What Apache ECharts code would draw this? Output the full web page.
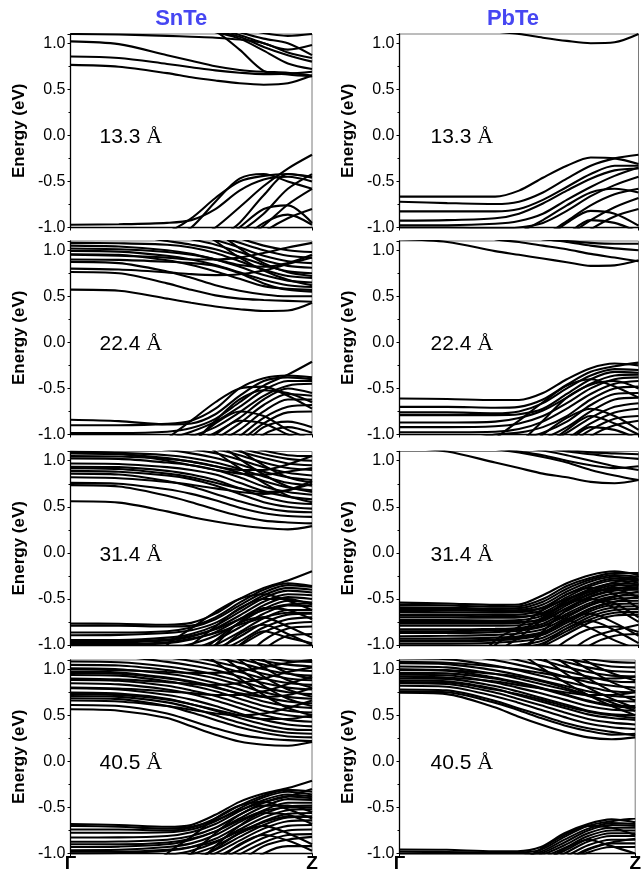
<!DOCTYPE html>
<html>
<head>
<meta charset="utf-8">
<script src="https://cdn.jsdelivr.net/npm/echarts@6/dist/echarts.min.js"></script>
<style>
  html, body { margin: 0; padding: 0; background: #fff; }
  #chart { width: 644px; height: 878px; }
</style>
</head>
<body>
<div id="chart"></div>
<script>
// k-path sampling from Γ (0) to Z (1)
const kPath = [0, 0.2, 0.4, 0.5, 0.6, 0.7, 0.8, 0.9, 1.0];

const materials = ['SnTe', 'PbTe'];
const thickness = ['13.3', '22.4', '31.4', '40.5'];
const kLabels = ['Γ', 'Z'];

// Band energies (eV) at each kPath point, one row per band
const snte133 = [
  [0.765, 0.745, 0.675, 0.63, 0.595, 0.565, 0.55, 0.565, 0.65],
  [0.855, 0.84, 0.775, 0.74, 0.705, 0.68, 0.665, 0.67, 0.69],
  [1.02, 0.99, 0.87, 0.81, 0.75, 0.71, 0.69, 0.68, 0.65],
  [1.10, 1.095, 1.08, 1.07, 1.06, 1.04, 1.00, 0.90, 0.84],
  [2.0, 1.7, 1.35, 1.22, 1.13, 0.93, 0.70, 0.66, 0.64],
  [1.7, 1.5, 1.3, 1.2, 1.13, 1.07, 0.96, 0.87, 0.80],
  [1.8, 1.6, 1.35, 1.25, 1.16, 1.09, 1.00, 0.93, 0.98],
  [1.9, 1.7, 1.45, 1.32, 1.2, 1.12, 1.05, 1.0, 0.87],
  [2.0, 1.8, 1.6, 1.45, 1.3, 1.18, 1.11, 1.08, 1.10],
  [1.5, 1.4, 1.25, 1.18, 1.12, 1.05, 0.92, 0.78, 0.72],
  [-0.97, -0.965, -0.95, -0.92, -0.80, -0.60, -0.48, -0.45, -0.50],
  [-1.3, -1.2, -1.05, -0.90, -0.68, -0.50, -0.44, -0.42, -0.46],
  [-2.0, -1.7, -1.3, -1.15, -1.0, -0.78, -0.55, -0.36, -0.21],
  [-1.8, -1.5, -1.15, -1.0, -0.72, -0.47, -0.42, -0.50, -0.58],
  [-2.0, -1.8, -1.5, -1.35, -1.2, -1.05, -0.85, -0.58, -0.42],
  [-2.0, -1.8, -1.5, -1.35, -1.15, -0.95, -0.65, -0.42, -0.45],
  [-2.0, -1.8, -1.6, -1.45, -1.3, -1.15, -0.98, -0.75, -0.58],
  [-2.0, -1.8, -1.6, -1.4, -1.2, -1.0, -0.80, -0.76, -0.95],
  [-2.0, -1.8, -1.6, -1.5, -1.35, -1.15, -0.95, -0.86, -0.97],
  [-2.0, -2.0, -1.8, -1.65, -1.45, -1.25, -1.05, -0.90, -0.80]
];

const pbte133 = [
  [1.35, 1.25, 1.13, 1.10, 1.06, 1.025, 1.0, 1.01, 1.10],
  [-0.665, -0.665, -0.665, -0.60, -0.46, -0.33, -0.24, -0.25, -0.31],
  [-0.72, -0.735, -0.745, -0.72, -0.62, -0.47, -0.33, -0.25, -0.21],
  [-0.825, -0.825, -0.825, -0.80, -0.70, -0.56, -0.42, -0.33, -0.33],
  [-0.925, -0.92, -0.90, -0.85, -0.74, -0.60, -0.47, -0.38, -0.36],
  [-0.975, -0.975, -0.96, -0.93, -0.85, -0.70, -0.56, -0.44, -0.35],
  [-1.0, -1.0, -1.01, -1.0, -0.95, -0.82, -0.66, -0.54, -0.45],
  [-1.6, -1.4, -1.15, -1.05, -0.92, -0.76, -0.62, -0.58, -0.62],
  [-2.0, -1.8, -1.4, -1.25, -1.10, -0.93, -0.76, -0.64, -0.58],
  [-2.0, -1.9, -1.6, -1.45, -1.28, -1.10, -0.92, -0.78, -0.68],
  [-2.0, -1.8, -1.5, -1.35, -1.15, -0.95, -0.82, -0.85, -0.98],
  [-2.0, -2.0, -1.8, -1.6, -1.4, -1.2, -1.02, -0.88, -0.80],
  [-2.0, -2.0, -1.7, -1.5, -1.3, -1.08, -0.92, -0.95, -1.05]
];

const snte224 = [
  [0.572, 0.56, 0.475, 0.43, 0.39, 0.36, 0.34, 0.345, 0.43],
  [0.764, 0.75, 0.64, 0.57, 0.51, 0.475, 0.46, 0.45, 0.44],
  [0.873, 0.86, 0.77, 0.70, 0.62, 0.56, 0.52, 0.50, 0.50],
  [0.899, 0.895, 0.875, 0.86, 0.83, 0.75, 0.64, 0.57, 0.55],
  [0.957, 0.95, 0.89, 0.84, 0.77, 0.69, 0.61, 0.58, 0.57],
  [0.993, 0.985, 0.94, 0.90, 0.84, 0.76, 0.68, 0.62, 0.60],
  [1.018, 1.01, 0.98, 0.95, 0.90, 0.82, 0.73, 0.67, 0.65],
  [1.08, 1.075, 1.06, 1.03, 0.97, 0.88, 0.79, 0.72, 0.70],
  [1.2, 1.18, 1.10, 1.06, 1.01, 0.93, 0.84, 0.77, 0.75],
  [1.35, 1.3, 1.18, 1.12, 1.06, 0.98, 0.89, 0.83, 0.81],
  [1.5, 1.42, 1.26, 1.18, 1.11, 1.03, 0.94, 0.88, 0.86],
  [1.7, 1.55, 1.33, 1.24, 1.16, 1.08, 1.0, 0.94, 0.92],
  [1.9, 1.7, 1.4, 1.3, 1.21, 1.13, 1.05, 1.0, 0.98],
  [0.80, 0.79, 0.76, 0.74, 0.73, 0.74, 0.78, 0.85, 0.92],
  [0.95, 0.94, 0.92, 0.90, 0.90, 0.92, 0.97, 1.03, 1.08],
  [2.4, 2.1, 1.5, 1.3, 1.1, 0.92, 0.78, 0.68, 0.62],
  [2.6, 2.3, 1.7, 1.45, 1.22, 1.02, 0.86, 0.76, 0.72],
  [1.05, 1.04, 1.0, 0.96, 0.9, 0.84, 0.82, 0.86, 0.95],
  [-0.84, -0.855, -0.89, -0.88, -0.78, -0.58, -0.42, -0.38, -0.40],
  [-0.90, -0.90, -0.885, -0.85, -0.72, -0.50, -0.39, -0.36, -0.38],
  [-0.985, -0.985, -0.97, -0.93, -0.83, -0.65, -0.47, -0.35, -0.21],
  [-1.3, -1.2, -1.05, -0.97, -0.86, -0.70, -0.52, -0.42, -0.42],
  [-1.5, -1.3, -1.1, -1.02, -0.92, -0.76, -0.58, -0.47, -0.45],
  [-1.6, -1.4, -1.2, -1.1, -0.98, -0.82, -0.62, -0.50, -0.55],
  [-1.8, -1.6, -1.3, -1.18, -1.05, -0.88, -0.68, -0.56, -0.58],
  [-2.0, -1.7, -1.4, -1.25, -1.1, -0.95, -0.75, -0.62, -0.62],
  [-2.0, -1.8, -1.5, -1.35, -1.2, -1.02, -0.82, -0.70, -0.68],
  [-2.0, -1.9, -1.6, -1.45, -1.28, -1.08, -0.88, -0.76, -0.75],
  [-2.0, -2.0, -1.7, -1.55, -1.38, -1.15, -0.92, -0.86, -0.92],
  [-2.0, -2.0, -1.8, -1.62, -1.45, -1.25, -1.0, -0.92, -0.98],
  [-2.0, -1.7, -1.3, -1.1, -0.88, -0.75, -0.80, -0.95, -1.05],
  [-2.0, -1.8, -1.4, -1.2, -1.0, -0.85, -0.88, -1.0, -1.1],
  [-2.0, -1.6, -1.05, -0.85, -0.65, -0.5, -0.48, -0.58, -0.72],
  [-2.0, -1.9, -1.3, -1.1, -0.85, -0.62, -0.52, -0.55, -0.65]
];

const pbte224 = [
  [1.12, 1.09, 0.99, 0.95, 0.91, 0.87, 0.83, 0.835, 0.89],
  [1.5, 1.3, 1.12, 1.09, 1.05, 1.01, 0.96, 0.92, 0.88],
  [1.6, 1.4, 1.2, 1.15, 1.12, 1.09, 1.05, 1.02, 1.0],
  [1.5, 1.35, 1.2, 1.15, 1.12, 1.10, 1.08, 1.07, 1.07],
  [-0.61, -0.615, -0.625, -0.625, -0.55, -0.40, -0.28, -0.23, -0.25],
  [-0.70, -0.70, -0.71, -0.70, -0.62, -0.46, -0.32, -0.26, -0.22],
  [-0.76, -0.76, -0.77, -0.75, -0.66, -0.50, -0.36, -0.29, -0.30],
  [-0.79, -0.79, -0.79, -0.78, -0.72, -0.56, -0.40, -0.32, -0.33],
  [-0.87, -0.87, -0.86, -0.82, -0.74, -0.60, -0.45, -0.36, -0.35],
  [-0.92, -0.92, -0.91, -0.88, -0.80, -0.66, -0.50, -0.40, -0.38],
  [-0.975, -0.975, -0.97, -0.94, -0.86, -0.72, -0.56, -0.45, -0.42],
  [-1.2, -1.1, -1.0, -0.98, -0.92, -0.80, -0.62, -0.50, -0.48],
  [-1.5, -1.3, -1.1, -1.05, -0.98, -0.86, -0.68, -0.56, -0.55],
  [-1.8, -1.5, -1.25, -1.15, -1.05, -0.92, -0.75, -0.62, -0.60],
  [-2.0, -1.7, -1.4, -1.25, -1.12, -0.98, -0.82, -0.70, -0.66],
  [-2.0, -1.9, -1.55, -1.4, -1.22, -1.05, -0.88, -0.76, -0.72],
  [-2.0, -2.0, -1.7, -1.5, -1.3, -1.12, -0.95, -0.83, -0.80],
  [-2.0, -1.8, -1.4, -1.2, -1.0, -0.82, -0.72, -0.80, -0.95],
  [-2.0, -2.0, -1.6, -1.4, -1.15, -0.95, -0.80, -0.88, -1.0],
  [-2.0, -2.0, -1.8, -1.6, -1.35, -1.1, -0.92, -0.95, -1.05],
  [-2.0, -2.0, -2.0, -1.8, -1.5, -1.25, -1.02, -0.90, -0.85],
  [-2.0, -1.6, -1.05, -0.85, -0.65, -0.47, -0.4, -0.48, -0.6],
  [-2.0, -1.9, -1.3, -1.1, -0.85, -0.6, -0.46, -0.42, -0.5]
];

const snte314 = [
  [0.56, 0.545, 0.45, 0.39, 0.34, 0.30, 0.27, 0.255, 0.29],
  [0.735, 0.72, 0.62, 0.55, 0.47, 0.40, 0.35, 0.33, 0.32],
  [0.76, 0.75, 0.69, 0.64, 0.57, 0.49, 0.43, 0.40, 0.39],
  [0.86, 0.85, 0.78, 0.72, 0.64, 0.56, 0.49, 0.45, 0.44],
  [0.89, 0.88, 0.84, 0.80, 0.73, 0.64, 0.55, 0.50, 0.48],
  [0.935, 0.93, 0.89, 0.85, 0.79, 0.70, 0.61, 0.55, 0.53],
  [0.97, 0.965, 0.93, 0.90, 0.85, 0.76, 0.67, 0.61, 0.58],
  [1.025, 1.02, 0.98, 0.95, 0.90, 0.82, 0.72, 0.66, 0.63],
  [1.05, 1.045, 1.02, 0.99, 0.94, 0.87, 0.78, 0.71, 0.68],
  [1.09, 1.085, 1.06, 1.03, 0.98, 0.91, 0.83, 0.76, 0.73],
  [1.2, 1.18, 1.12, 1.08, 1.03, 0.96, 0.88, 0.82, 0.79],
  [1.3, 1.27, 1.18, 1.13, 1.08, 1.01, 0.93, 0.87, 0.84],
  [1.45, 1.4, 1.26, 1.19, 1.13, 1.06, 0.98, 0.92, 0.90],
  [1.6, 1.5, 1.33, 1.25, 1.18, 1.10, 1.03, 0.97, 0.95],
  [1.7, 1.6, 1.4, 1.3, 1.22, 1.14, 1.07, 1.02, 1.0],
  [1.8, 1.7, 1.48, 1.36, 1.27, 1.18, 1.11, 1.06, 1.05],
  [1.1, 1.08, 1.0, 0.95, 0.90, 0.86, 0.85, 0.88, 0.92],
  [0.92, 0.91, 0.86, 0.82, 0.76, 0.70, 0.66, 0.68, 0.75],
  [2.4, 2.1, 1.5, 1.3, 1.1, 0.92, 0.76, 0.62, 0.55],
  [2.6, 2.3, 1.7, 1.45, 1.22, 1.02, 0.85, 0.72, 0.66],
  [2.8, 2.5, 1.9, 1.6, 1.34, 1.12, 0.95, 0.82, 0.76],
  [1.08, 1.07, 1.03, 0.99, 0.94, 0.9, 0.9, 0.96, 1.05],
  [0.82, 0.81, 0.77, 0.74, 0.7, 0.66, 0.64, 0.68, 0.78],
  [-0.767, -0.77, -0.78, -0.76, -0.66, -0.50, -0.38, -0.30, -0.20],
  [-0.79, -0.79, -0.80, -0.79, -0.70, -0.54, -0.40, -0.33, -0.36],
  [-0.865, -0.865, -0.85, -0.81, -0.72, -0.57, -0.43, -0.35, -0.37],
  [-0.894, -0.89, -0.87, -0.84, -0.76, -0.61, -0.46, -0.38, -0.40],
  [-0.945, -0.945, -0.92, -0.88, -0.79, -0.64, -0.49, -0.41, -0.43],
  [-0.975, -0.97, -0.95, -0.91, -0.82, -0.68, -0.53, -0.45, -0.46],
  [-1.0, -1.0, -0.98, -0.94, -0.86, -0.72, -0.57, -0.48, -0.50],
  [-1.2, -1.15, -1.05, -0.99, -0.90, -0.76, -0.61, -0.52, -0.54],
  [-1.4, -1.3, -1.12, -1.05, -0.95, -0.81, -0.66, -0.57, -0.58],
  [-1.6, -1.45, -1.2, -1.1, -1.0, -0.86, -0.71, -0.62, -0.62],
  [-1.8, -1.6, -1.3, -1.17, -1.05, -0.91, -0.76, -0.67, -0.66],
  [-2.0, -1.75, -1.4, -1.25, -1.1, -0.96, -0.81, -0.72, -0.70],
  [-2.0, -1.9, -1.5, -1.33, -1.16, -1.01, -0.86, -0.77, -0.75],
  [-2.0, -1.8, -1.35, -1.15, -0.95, -0.76, -0.70, -0.80, -0.92],
  [-2.0, -2.0, -1.55, -1.35, -1.1, -0.88, -0.78, -0.88, -1.0],
  [-2.0, -2.0, -1.7, -1.5, -1.25, -1.0, -0.85, -0.92, -0.98],
  [-2.0, -2.0, -2.0, -1.8, -1.5, -1.2, -0.95, -0.82, -0.80],
  [-2.0, -2.0, -2.0, -1.9, -1.6, -1.3, -1.05, -0.90, -0.88],
  [-2.0, -1.5, -1.0, -0.82, -0.64, -0.5, -0.45, -0.52, -0.62],
  [-2.0, -1.8, -1.2, -1.0, -0.8, -0.6, -0.5, -0.5, -0.56],
  [-2.0, -2.0, -1.5, -1.25, -1.0, -0.75, -0.6, -0.62, -0.72],
  [-0.96, -0.96, -0.94, -0.9, -0.83, -0.72, -0.62, -0.56, -0.55],
  [-0.99, -0.99, -0.97, -0.93, -0.87, -0.78, -0.7, -0.65, -0.65]
];

const pbte314 = [
  [1.15, 1.10, 0.98, 0.92, 0.86, 0.82, 0.77, 0.755, 0.79],
  [1.5, 1.3, 1.13, 1.09, 1.04, 0.98, 0.90, 0.84, 0.79],
  [1.6, 1.4, 1.2, 1.15, 1.11, 1.06, 1.0, 0.94, 0.90],
  [1.6, 1.45, 1.25, 1.18, 1.14, 1.10, 1.07, 1.04, 1.02],
  [1.6, 1.5, 1.3, 1.22, 1.16, 1.12, 1.09, 1.08, 1.07],
  [1.4, 1.3, 1.15, 1.1, 1.06, 1.0, 0.95, 0.92, 0.94],
  [-0.54, -0.55, -0.565, -0.56, -0.46, -0.33, -0.24, -0.20, -0.24],
  [-0.565, -0.57, -0.585, -0.58, -0.50, -0.36, -0.27, -0.22, -0.22],
  [-0.59, -0.595, -0.605, -0.60, -0.53, -0.39, -0.29, -0.24, -0.26],
  [-0.61, -0.615, -0.625, -0.62, -0.56, -0.42, -0.31, -0.26, -0.28],
  [-0.64, -0.645, -0.65, -0.645, -0.59, -0.45, -0.34, -0.28, -0.30],
  [-0.67, -0.67, -0.675, -0.67, -0.62, -0.48, -0.36, -0.30, -0.32],
  [-0.70, -0.70, -0.705, -0.70, -0.65, -0.51, -0.39, -0.33, -0.34],
  [-0.73, -0.73, -0.735, -0.73, -0.68, -0.54, -0.42, -0.35, -0.36],
  [-0.765, -0.765, -0.765, -0.76, -0.71, -0.57, -0.45, -0.38, -0.38],
  [-0.79, -0.79, -0.79, -0.785, -0.74, -0.60, -0.48, -0.41, -0.40],
  [-0.83, -0.83, -0.825, -0.815, -0.77, -0.63, -0.51, -0.44, -0.43],
  [-0.87, -0.87, -0.86, -0.845, -0.80, -0.66, -0.54, -0.47, -0.46],
  [-0.905, -0.90, -0.89, -0.875, -0.83, -0.70, -0.57, -0.50, -0.49],
  [-0.93, -0.93, -0.92, -0.905, -0.86, -0.73, -0.60, -0.53, -0.52],
  [-0.96, -0.96, -0.95, -0.935, -0.89, -0.76, -0.63, -0.56, -0.55],
  [-0.985, -0.985, -0.975, -0.96, -0.92, -0.79, -0.66, -0.59, -0.58],
  [-1.1, -1.08, -1.03, -1.0, -0.95, -0.82, -0.69, -0.62, -0.61],
  [-1.3, -1.2, -1.08, -1.04, -0.98, -0.85, -0.72, -0.65, -0.64],
  [-1.5, -1.35, -1.14, -1.08, -1.01, -0.88, -0.75, -0.68, -0.67],
  [-2.0, -1.7, -1.2, -1.05, -0.88, -0.72, -0.66, -0.76, -0.90],
  [-2.0, -1.9, -1.4, -1.2, -1.0, -0.82, -0.74, -0.84, -0.98],
  [-2.0, -2.0, -1.6, -1.4, -1.15, -0.95, -0.82, -0.80, -0.86],
  [-2.0, -2.0, -1.8, -1.6, -1.35, -1.1, -0.92, -0.84, -0.78],
  [-2.0, -2.0, -2.0, -1.8, -1.5, -1.2, -1.0, -0.90, -0.88],
  [-2.0, -1.5, -0.95, -0.8, -0.62, -0.45, -0.38, -0.45, -0.6],
  [-2.0, -1.8, -1.1, -0.92, -0.72, -0.52, -0.42, -0.40, -0.48],
  [-2.0, -2.0, -1.3, -1.1, -0.85, -0.62, -0.5, -0.55, -0.7],
  [-0.6, -0.61, -0.62, -0.63, -0.66, -0.72, -0.82, -0.95, -1.05],
  [-0.62, -0.625, -0.63, -0.63, -0.6, -0.5, -0.4, -0.32, -0.25],
  [-0.68, -0.68, -0.69, -0.69, -0.66, -0.55, -0.44, -0.36, -0.29],
  [-0.75, -0.75, -0.75, -0.75, -0.72, -0.6, -0.47, -0.4, -0.34],
  [-0.85, -0.85, -0.84, -0.83, -0.79, -0.68, -0.56, -0.48, -0.42],
  [-0.95, -0.95, -0.94, -0.92, -0.87, -0.74, -0.61, -0.53, -0.47],
  [-2.0, -1.6, -1.0, -0.86, -0.7, -0.55, -0.5, -0.6, -0.75]
];

const snte405 = [
  [0.565, 0.55, 0.47, 0.38, 0.29, 0.215, 0.18, 0.17, 0.21],
  [0.612, 0.60, 0.52, 0.44, 0.36, 0.29, 0.25, 0.23, 0.22],
  [0.685, 0.675, 0.60, 0.53, 0.45, 0.37, 0.31, 0.27, 0.26],
  [0.71, 0.70, 0.64, 0.58, 0.50, 0.42, 0.35, 0.31, 0.30],
  [0.746, 0.735, 0.68, 0.62, 0.55, 0.47, 0.40, 0.35, 0.34],
  [0.793, 0.78, 0.72, 0.67, 0.60, 0.52, 0.45, 0.40, 0.38],
  [0.848, 0.835, 0.78, 0.73, 0.66, 0.58, 0.50, 0.45, 0.43],
  [0.884, 0.875, 0.82, 0.77, 0.71, 0.63, 0.55, 0.50, 0.48],
  [0.938, 0.93, 0.87, 0.82, 0.76, 0.68, 0.60, 0.55, 0.53],
  [0.975, 0.965, 0.91, 0.87, 0.81, 0.73, 0.65, 0.60, 0.58],
  [1.01, 1.0, 0.95, 0.91, 0.85, 0.78, 0.70, 0.65, 0.63],
  [1.047, 1.04, 0.99, 0.95, 0.90, 0.83, 0.75, 0.70, 0.68],
  [1.083, 1.075, 1.03, 0.99, 0.94, 0.87, 0.80, 0.75, 0.73],
  [1.15, 1.14, 1.08, 1.04, 0.99, 0.92, 0.85, 0.80, 0.78],
  [1.22, 1.2, 1.13, 1.09, 1.04, 0.97, 0.90, 0.85, 0.83],
  [1.3, 1.28, 1.19, 1.14, 1.08, 1.02, 0.95, 0.90, 0.88],
  [1.4, 1.36, 1.25, 1.19, 1.13, 1.07, 1.0, 0.95, 0.93],
  [1.5, 1.45, 1.31, 1.24, 1.18, 1.11, 1.05, 1.0, 0.98],
  [1.6, 1.52, 1.37, 1.29, 1.22, 1.15, 1.09, 1.05, 1.03],
  [1.7, 1.6, 1.42, 1.33, 1.26, 1.19, 1.13, 1.09, 1.08],
  [0.80, 0.79, 0.76, 0.74, 0.72, 0.72, 0.76, 0.84, 0.92],
  [0.90, 0.89, 0.86, 0.84, 0.83, 0.85, 0.90, 0.97, 1.02],
  [0.66, 0.65, 0.60, 0.56, 0.52, 0.50, 0.52, 0.58, 0.66],
  [1.0, 0.99, 0.97, 0.96, 0.96, 0.98, 1.02, 1.07, 1.1],
  [2.4, 2.1, 1.5, 1.28, 1.08, 0.9, 0.72, 0.58, 0.5],
  [2.6, 2.3, 1.7, 1.42, 1.2, 1.0, 0.82, 0.68, 0.6],
  [2.8, 2.5, 1.9, 1.58, 1.32, 1.1, 0.92, 0.78, 0.7],
  [3.0, 2.7, 2.1, 1.72, 1.44, 1.2, 1.02, 0.88, 0.8],
  [3.2, 2.9, 2.3, 1.88, 1.56, 1.3, 1.1, 0.96, 0.9],
  [0.73, 0.72, 0.67, 0.62, 0.56, 0.5, 0.46, 0.46, 0.5],
  [0.96, 0.95, 0.9, 0.86, 0.8, 0.74, 0.7, 0.72, 0.8],
  [-0.68, -0.69, -0.71, -0.69, -0.58, -0.44, -0.35, -0.29, -0.21],
  [-0.74, -0.74, -0.75, -0.72, -0.62, -0.48, -0.37, -0.31, -0.33],
  [-0.775, -0.775, -0.77, -0.74, -0.65, -0.51, -0.39, -0.33, -0.36],
  [-0.826, -0.825, -0.81, -0.77, -0.68, -0.54, -0.42, -0.36, -0.38],
  [-0.873, -0.87, -0.85, -0.81, -0.72, -0.58, -0.45, -0.38, -0.40],
  [-0.93, -0.925, -0.90, -0.85, -0.76, -0.62, -0.49, -0.41, -0.42],
  [-0.964, -0.96, -0.93, -0.89, -0.80, -0.66, -0.53, -0.45, -0.45],
  [-1.0, -0.995, -0.97, -0.93, -0.84, -0.70, -0.57, -0.49, -0.48],
  [-1.15, -1.1, -1.02, -0.97, -0.88, -0.74, -0.61, -0.53, -0.52],
  [-1.3, -1.22, -1.08, -1.01, -0.92, -0.78, -0.65, -0.57, -0.56],
  [-1.5, -1.35, -1.14, -1.06, -0.96, -0.82, -0.69, -0.61, -0.60],
  [-1.7, -1.5, -1.2, -1.1, -1.0, -0.86, -0.73, -0.65, -0.64],
  [-1.9, -1.65, -1.28, -1.16, -1.05, -0.91, -0.78, -0.70, -0.69],
  [-2.0, -1.8, -1.36, -1.22, -1.1, -0.96, -0.83, -0.75, -0.74],
  [-2.0, -1.95, -1.45, -1.29, -1.15, -1.01, -0.88, -0.80, -0.79],
  [-2.0, -1.8, -1.3, -1.12, -0.95, -0.78, -0.70, -0.78, -0.90],
  [-2.0, -2.0, -1.5, -1.3, -1.1, -0.9, -0.80, -0.86, -0.97],
  [-2.0, -2.0, -1.8, -1.6, -1.35, -1.1, -0.92, -0.85, -0.82],
  [-2.0, -2.0, -2.0, -1.8, -1.5, -1.2, -1.0, -0.92, -0.92],
  [-2.0, -1.5, -1.0, -0.82, -0.62, -0.48, -0.44, -0.52, -0.62],
  [-2.0, -1.8, -1.2, -1.0, -0.78, -0.58, -0.48, -0.48, -0.55],
  [-2.0, -2.0, -1.4, -1.18, -0.92, -0.7, -0.56, -0.58, -0.68],
  [-0.70, -0.71, -0.73, -0.71, -0.64, -0.53, -0.44, -0.38, -0.30],
  [-0.90, -0.90, -0.88, -0.84, -0.76, -0.64, -0.54, -0.50, -0.50],
  [-0.98, -0.98, -0.96, -0.93, -0.87, -0.76, -0.66, -0.60, -0.60]
];

const pbte405 = [
  [0.746, 0.73, 0.59, 0.49, 0.40, 0.32, 0.26, 0.24, 0.26],
  [0.78, 0.77, 0.66, 0.58, 0.50, 0.42, 0.36, 0.32, 0.28],
  [0.82, 0.81, 0.71, 0.64, 0.56, 0.48, 0.41, 0.37, 0.35],
  [0.848, 0.84, 0.75, 0.68, 0.61, 0.53, 0.46, 0.42, 0.40],
  [0.877, 0.87, 0.79, 0.72, 0.65, 0.58, 0.51, 0.47, 0.45],
  [0.90, 0.895, 0.82, 0.76, 0.69, 0.62, 0.55, 0.51, 0.50],
  [0.94, 0.935, 0.86, 0.80, 0.74, 0.67, 0.60, 0.56, 0.55],
  [0.993, 0.985, 0.91, 0.86, 0.80, 0.73, 0.66, 0.61, 0.60],
  [1.03, 1.02, 0.95, 0.90, 0.84, 0.78, 0.71, 0.66, 0.65],
  [1.065, 1.055, 0.99, 0.94, 0.88, 0.82, 0.76, 0.71, 0.70],
  [1.12, 1.11, 1.04, 0.99, 0.93, 0.87, 0.81, 0.76, 0.75],
  [1.2, 1.18, 1.1, 1.05, 0.99, 0.92, 0.86, 0.82, 0.80],
  [1.3, 1.26, 1.16, 1.1, 1.04, 0.98, 0.92, 0.87, 0.86],
  [1.4, 1.35, 1.22, 1.16, 1.10, 1.03, 0.97, 0.93, 0.92],
  [1.5, 1.43, 1.28, 1.21, 1.15, 1.08, 1.02, 0.98, 0.97],
  [1.6, 1.5, 1.34, 1.26, 1.19, 1.12, 1.07, 1.03, 1.02],
  [1.7, 1.6, 1.4, 1.31, 1.23, 1.16, 1.11, 1.08, 1.07],
  [2.4, 2.0, 1.4, 1.2, 1.02, 0.86, 0.72, 0.6, 0.5],
  [2.6, 2.2, 1.6, 1.35, 1.14, 0.96, 0.8, 0.68, 0.58],
  [2.8, 2.4, 1.8, 1.5, 1.26, 1.06, 0.9, 0.76, 0.66],
  [3.0, 2.6, 2.0, 1.65, 1.38, 1.16, 1.0, 0.86, 0.76],
  [3.2, 2.8, 2.2, 1.8, 1.5, 1.26, 1.08, 0.96, 0.88],
  [0.76, 0.75, 0.64, 0.56, 0.47, 0.39, 0.33, 0.29, 0.30],
  [0.86, 0.855, 0.78, 0.73, 0.67, 0.60, 0.54, 0.50, 0.47],
  [0.96, 0.955, 0.90, 0.85, 0.79, 0.72, 0.65, 0.60, 0.58],
  [1.0, 0.99, 0.95, 0.92, 0.87, 0.80, 0.72, 0.64, 0.55],
  [0.92, 0.91, 0.87, 0.83, 0.79, 0.75, 0.72, 0.72, 0.75],
  [1.08, 1.07, 1.03, 1.0, 0.96, 0.92, 0.90, 0.90, 0.92],
  [-0.957, -0.96, -0.975, -0.975, -0.93, -0.78, -0.68, -0.63, -0.66],
  [-0.98, -0.985, -0.99, -0.99, -0.96, -0.82, -0.70, -0.65, -0.62],
  [-1.02, -1.02, -1.02, -1.02, -0.98, -0.85, -0.73, -0.67, -0.68],
  [-1.2, -1.15, -1.08, -1.05, -1.0, -0.88, -0.75, -0.69, -0.70],
  [-1.4, -1.3, -1.15, -1.09, -1.02, -0.91, -0.78, -0.72, -0.72],
  [-1.6, -1.45, -1.22, -1.13, -1.05, -0.94, -0.81, -0.75, -0.75],
  [-1.8, -1.6, -1.3, -1.18, -1.08, -0.97, -0.84, -0.78, -0.78],
  [-2.0, -1.75, -1.38, -1.23, -1.12, -1.0, -0.87, -0.81, -0.81],
  [-2.0, -1.9, -1.46, -1.29, -1.16, -1.04, -0.91, -0.85, -0.85],
  [-2.0, -2.0, -1.55, -1.35, -1.2, -1.08, -0.95, -0.89, -0.89],
  [-2.0, -2.0, -1.65, -1.42, -1.25, -1.12, -0.99, -0.93, -0.93],
  [-2.0, -2.0, -1.5, -1.3, -1.12, -0.95, -0.85, -0.92, -1.0],
  [-2.0, -2.0, -1.8, -1.6, -1.35, -1.12, -0.96, -0.88, -0.84],
  [-2.0, -2.0, -1.3, -1.12, -0.95, -0.8, -0.7, -0.72, -0.8]
];

// Panel grid: rows = slab thickness, columns = material
const panelBands = [
  [snte133, pbte133],
  [snte224, pbte224],
  [snte314, pbte314],
  [snte405, pbte405]
];

const FONT = '"Liberation Sans", Arial, Helvetica, sans-serif';
const colLeft = [70.5, 399.5];
const colWidth = [241.5, 239];
const rowTop = [34, 241, 451.5, 660];
const rowHeight = 193.5;
const yMin = -1.0, yMax = 1.1;

const grids = [], xAxes = [], yAxes = [], series = [], graphics = [];

panelBands.forEach((row, r) => {
  row.forEach((bands, c) => {
    const idx = grids.length;
    const isBottom = r === panelBands.length - 1;
    grids.push({
      left: colLeft[c], top: rowTop[r], width: colWidth[c], height: rowHeight,
      show: true, borderColor: '#7a7a7a', borderWidth: 1, backgroundColor: 'transparent'
    });
    xAxes.push({
      type: 'value', gridIndex: idx, min: 0, max: 1, interval: 1,
      axisLine: { show: true, onZero: false, lineStyle: { color: '#000', width: 1.3 } },
      axisTick: { show: true, length: 3, lineStyle: { color: '#000' } },
      splitLine: { show: false },
      axisLabel: {
        show: isBottom, margin: 1,
        formatter: v => (v === 0 ? kLabels[0] : (v === 1 ? kLabels[1] : '')),
        color: '#000', fontSize: 19, fontWeight: 'bold', fontFamily: FONT
      }
    });
    yAxes.push({
      type: 'value', gridIndex: idx, min: yMin, max: yMax, interval: 0.5,
      name: 'Energy (eV)', nameLocation: 'middle', nameGap: 43,
      nameTextStyle: { color: '#000', fontSize: 17, fontWeight: 'bold', fontFamily: FONT },
      axisLine: { show: true, onZero: false, lineStyle: { color: '#000', width: 1.3 } },
      axisTick: { show: true, length: 3, lineStyle: { color: '#000' } },
      minorTick: { show: true, splitNumber: 2, length: 2, lineStyle: { color: '#000' } },
      splitLine: { show: false },
      axisLabel: {
        margin: 5, showMaxLabel: false,
        formatter: v => (v > 1.05 ? '' : v.toFixed(1)),
        color: '#000', fontSize: 16, fontFamily: FONT
      }
    });
    bands.forEach(band => {
      series.push({
        type: 'line', xAxisIndex: idx, yAxisIndex: idx,
        data: kPath.map((k, j) => [k, band[j]]),
        smooth: 0.3, showSymbol: false, symbol: 'none', clip: true,
        silent: true, animation: false,
        lineStyle: { color: '#000', width: 2.1 }
      });
    });
    // thickness label inside each panel
    graphics.push({
      type: 'text',
      x: colLeft[c] + (c === 0 ? 29 : 31),
      y: rowTop[r] + rowHeight * (yMax / (yMax - yMin)) + 2,
      style: {
        text: '{n|' + thickness[r] + ' }{a|Å}',
        verticalAlign: 'middle', align: 'left',
        rich: {
          n: { fontFamily: FONT, fontSize: 21, fill: '#000' },
          a: { fontFamily: '"Liberation Serif", "Times New Roman", serif', fontSize: 22, fill: '#000' }
        }
      }
    });
  });
});

// material headings
materials.forEach((m, c) => {
  graphics.push({
    type: 'text',
    x: colLeft[c] + colWidth[c] / 2 - (c === 0 ? 10 : 6),
    y: 19,
    style: {
      text: m, align: 'center', verticalAlign: 'middle',
      font: 'bold 22px ' + FONT, fill: '#4646f2'
    }
  });
});

const chart = echarts.init(document.getElementById('chart'), null, { renderer: 'canvas' });
chart.setOption({
  animation: false,
  backgroundColor: '#fff',
  grid: grids,
  xAxis: xAxes,
  yAxis: yAxes,
  series: series,
  graphic: graphics
});
</script>
</body>
</html>
